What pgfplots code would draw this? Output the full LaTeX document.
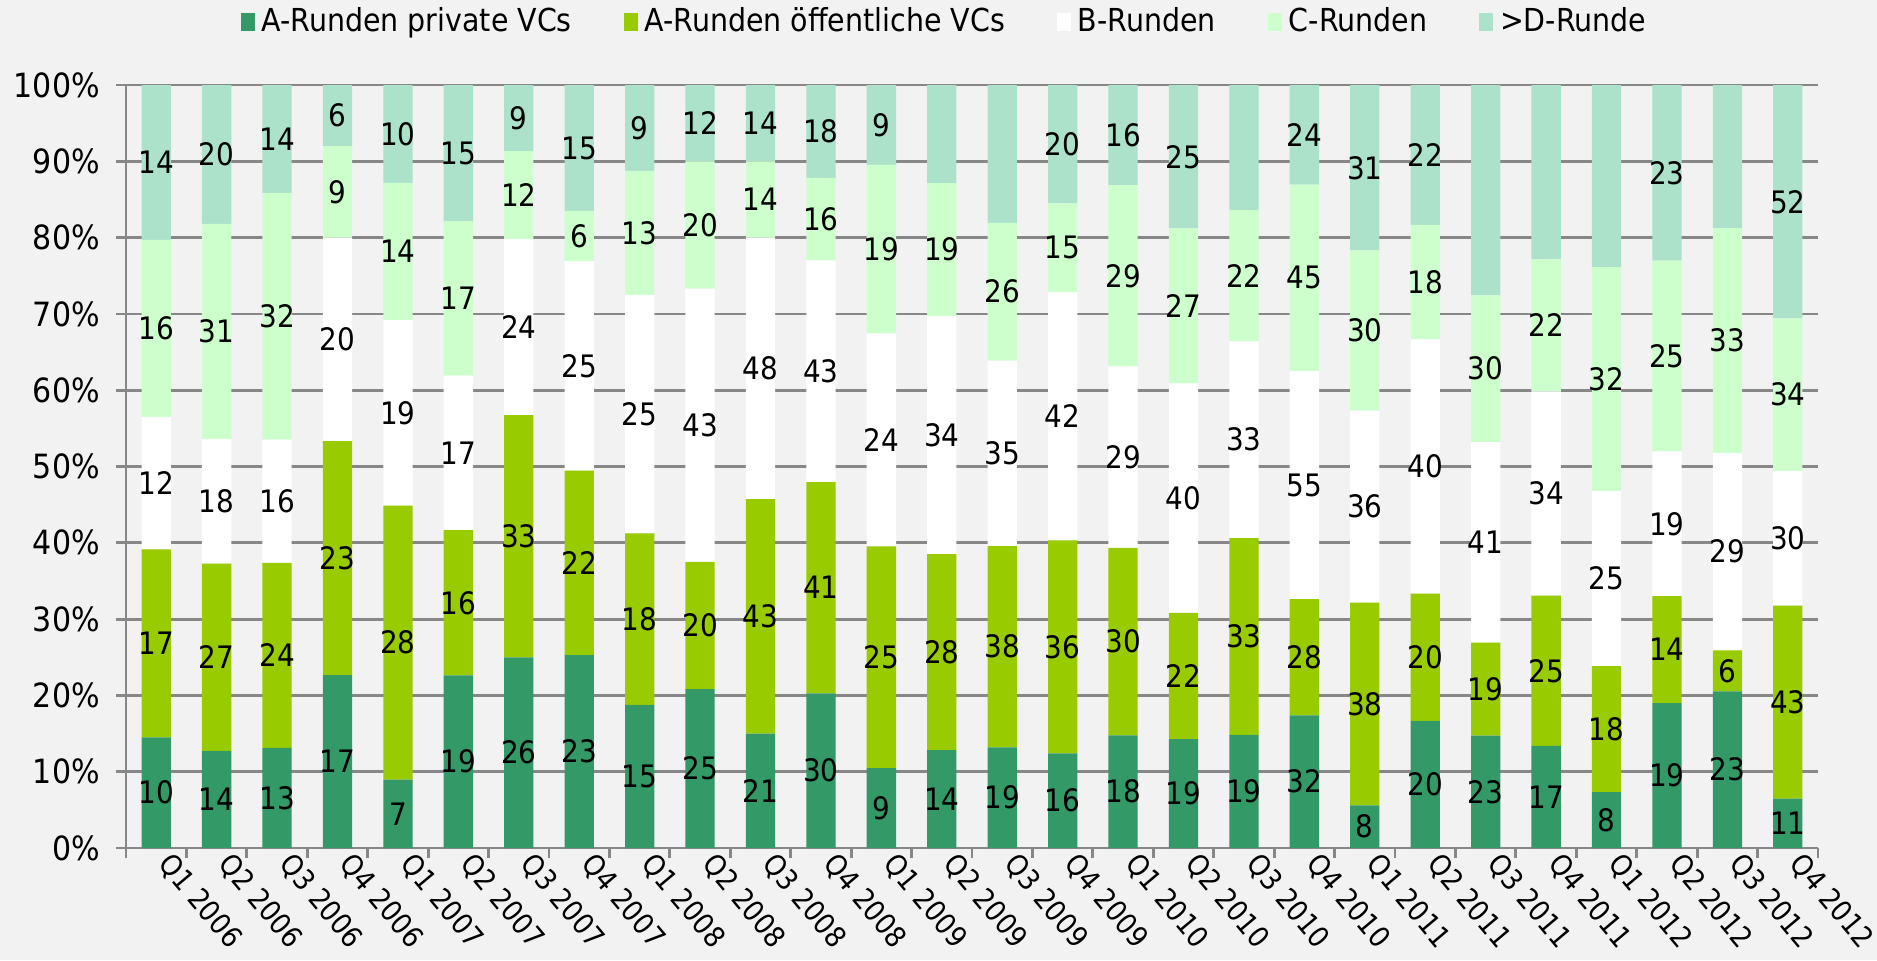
\documentclass[border=0pt]{standalone}
\usepackage{fontspec}
\setmainfont{DejaVu Sans Condensed}
\usepackage{pgfplots}
\usepackage{pgfplotstable}
\pgfplotsset{compat=1.18}

\definecolor{bg}{HTML}{F2F2F2}
\definecolor{cA}{HTML}{339966}
\definecolor{cB}{HTML}{99CC00}
\definecolor{cC}{HTML}{FFFFFF}
\definecolor{cD}{HTML}{CCFFCC}
\definecolor{cE}{HTML}{ABE2C9}
\definecolor{ax}{HTML}{878787}

% counts per quarter: a = A private, b = A public, c = B, d = C, e = >D
\pgfplotstableread{
x  a  b  c  d  e  tot
0  10 17 12 16 14 69
1  14 27 18 31 20 110
2  13 24 16 32 14 99
3  17 23 20 9  6  75
4  7  28 19 14 10 78
5  19 16 17 17 15 84
6  26 33 24 12 9  104
7  23 22 25 6  15 91
8  15 18 25 13 9  80
9  25 20 43 20 12 120
10 21 43 48 14 14 140
11 30 41 43 16 18 148
12 9  25 24 19 9  86
13 14 28 34 19 14 109
14 19 38 35 26 26 144
15 16 36 42 15 20 129
16 18 30 29 29 16 122
17 19 22 40 27 25 133
18 19 33 33 22 21 128
19 32 28 55 45 24 184
20 8  38 36 30 31 143
21 20 20 40 18 22 120
22 23 19 41 30 43 156
23 17 25 34 22 29 127
24 8  18 25 32 26 109
25 19 14 19 25 23 100
26 23 6  29 33 21 112
27 11 43 30 34 52 170
}\data

\pgfplotsset{seg/.style={fill=#1, draw=none}}

\begin{document}
\begin{tikzpicture}
\path[use as bounding box, fill=bg] (-1.26,-1.12) rectangle (17.51,8.48);
\begin{axis}[
  x=0.6043cm, y=0.0763cm,
  xmin=-0.5, xmax=27.5, ymin=0, ymax=100,
  ybar stacked, bar width=0.293cm,
  axis x line*=bottom, axis y line*=left,
  axis line style={ax, line width=0.8pt, -},
  ymajorgrids, grid style={ax, line width=0.8pt},
  ytick={0,10,...,100},
  yticklabel={\pgfmathprintnumber{\tick}\%},
  /pgf/number format/assume math mode=true,
  yticklabel style={font=\fontsize{9.5}{11}\selectfont, inner sep=2pt, xshift=-0.085cm},
  ytick style={ax, line width=0.8pt},
  tick align=outside, major tick length=0.1cm,
  xtick=data,
  x tick style={draw=none},
  minor xtick={-0.5,0.5,...,27.5},
  minor x tick style={ax, line width=0.8pt, draw=ax},
  minor tick length=0.1cm,
  xticklabels={Q1 2006,Q2 2006,Q3 2006,Q4 2006,Q1 2007,Q2 2007,Q3 2007,Q4 2007,Q1 2008,Q2 2008,Q3 2008,Q4 2008,Q1 2009,Q2 2009,Q3 2009,Q4 2009,Q1 2010,Q2 2010,Q3 2010,Q4 2010,Q1 2011,Q2 2011,Q3 2011,Q4 2011,Q1 2012,Q2 2012,Q3 2012,Q4 2012},
  xticklabel style={xshift=0.18cm, yshift=0.13cm, rotate=-50, anchor=north west, font=\fontsize{8.2}{10}\selectfont, inner sep=1pt},
  point meta=explicit,
  nodes near coords,
  every node near coord/.append style={anchor=center, font=\fontsize{8.8}{10}\selectfont, inner sep=0pt},
  legend columns=5,
  legend style={at={(0.5,1)}, anchor=center, yshift=0.63cm, xshift=-0.25cm, draw=none, fill=none,
    font=\fontsize{9}{11}\selectfont, /tikz/every even column/.append style={column sep=0.45cm}},
  legend image code/.code={\fill[#1] (0cm,-0.09cm) rectangle (0.14cm,0.09cm);},
]
\addplot[seg=cA] table[x=x, y expr=\thisrow{a}/\thisrow{tot}*100, meta=a]{\data};
\addplot[seg=cB] table[x=x, y expr=\thisrow{b}/\thisrow{tot}*100, meta=b]{\data};
\addplot[seg=cC] table[x=x, y expr=\thisrow{c}/\thisrow{tot}*100, meta=c]{\data};
\addplot[seg=cD] table[x=x, y expr=\thisrow{d}/\thisrow{tot}*100, meta=d]{\data};
\addplot[seg=cE] table[x=x, y expr=\thisrow{e}/\thisrow{tot}*100, meta=e]{\data};
\legend{A-Runden private VCs, A-Runden öffentliche VCs, B-Runden, C-Runden, >D-Runde}
\end{axis}
\end{tikzpicture}
\end{document}
